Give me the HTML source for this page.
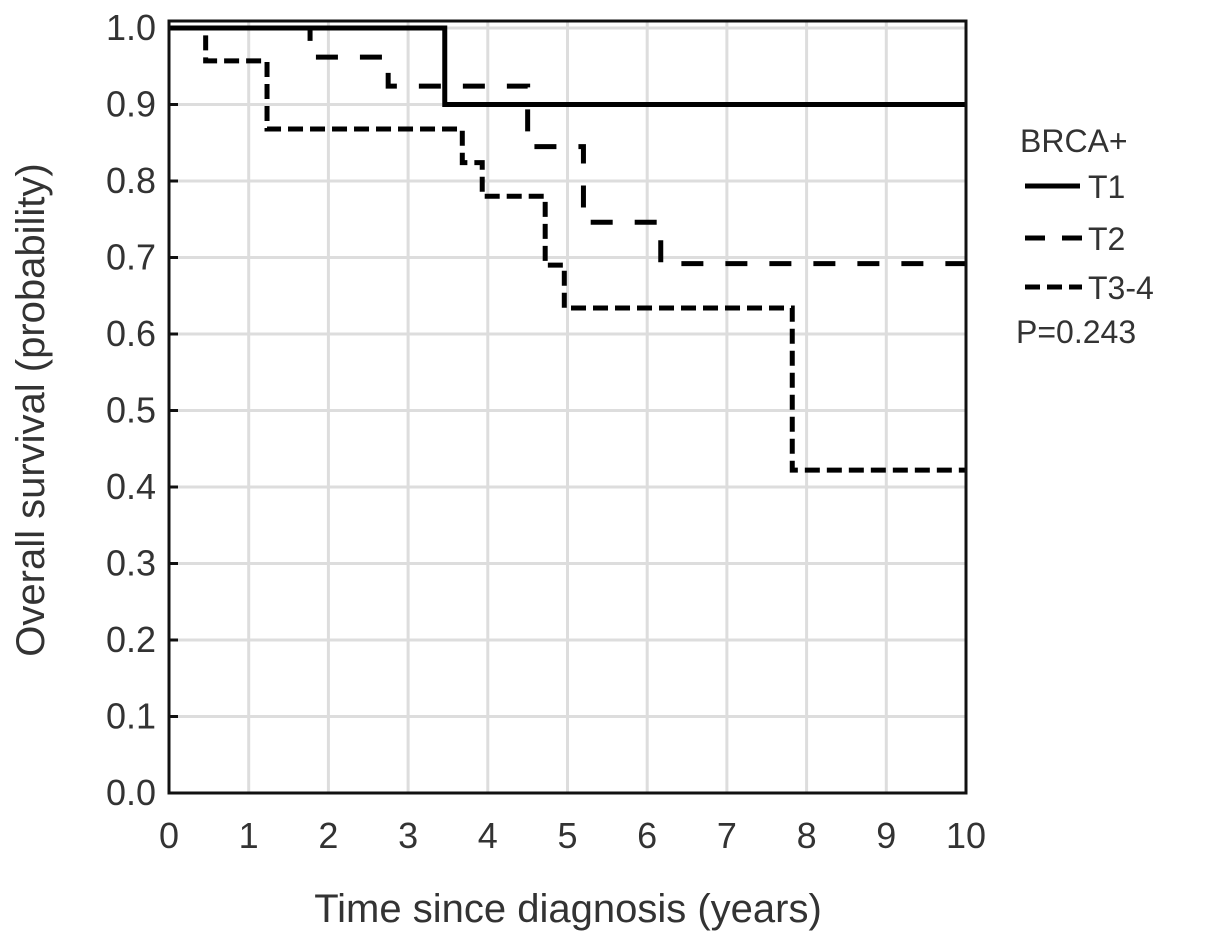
<!DOCTYPE html>
<html><head><meta charset="utf-8"><style>
body{margin:0;background:#fff}
svg text{font-family:"Liberation Sans",sans-serif;fill:#333}
</style></head><body>
<svg id="chart" width="1205" height="944" xmlns="http://www.w3.org/2000/svg">
<g id="grid"></g>
<g id="ticks"></g>
<g id="series"></g>
<rect x="169" y="21" width="797" height="772" fill="none" stroke="#111" stroke-width="3"/>
<text x="568" y="922" font-size="40" text-anchor="middle">Time since diagnosis (years)</text>
<text transform="translate(44,410) rotate(-90)" font-size="40" text-anchor="middle">Overall survival (probability)</text>
<g>
<text x="1020" y="152" font-size="32">BRCA+</text>
<line x1="1025" y1="186" x2="1080" y2="186" stroke="#000" stroke-width="5"/>
<text x="1088" y="198" font-size="32">T1</text>
<line x1="1025" y1="238" x2="1082" y2="238" stroke="#000" stroke-width="5" stroke-dasharray="20,17"/>
<text x="1088" y="250" font-size="32">T2</text>
<line x1="1025" y1="287" x2="1082" y2="287" stroke="#000" stroke-width="5" stroke-dasharray="15,7"/>
<text x="1088" y="299" font-size="32">T3-4</text>
<text x="1016" y="343" font-size="32">P=0.243</text>
</g>
</svg>
<script>
const xTicks=[0,1,2,3,4,5,6,7,8,9,10];
const yTicks=[0,0.1,0.2,0.3,0.4,0.5,0.6,0.7,0.8,0.9,1.0];
const t1Times=[0,3.46,10];
const t1Surv=[1.0,0.9,0.9];
const t2Times=[0,1.77,2.75,4.5,5.2,6.17,10];
const t2Surv=[1.0,0.962,0.924,0.845,0.746,0.692,0.692];
const t34Times=[0,0.46,1.23,3.68,3.93,4.72,4.96,7.82,10];
const t34Surv=[1.0,0.957,0.868,0.824,0.78,0.69,0.634,0.422,0.422];
const NS="http://www.w3.org/2000/svg";
function X(v){return 169+v*79.7;}
function Y(v){return 793-v*765;}
const grid=document.getElementById('grid'),ticks=document.getElementById('ticks'),ser=document.getElementById('series');
function mk(tag,attrs,parent){const e=document.createElementNS(NS,tag);for(const k in attrs)e.setAttribute(k,attrs[k]);parent.appendChild(e);return e;}
xTicks.forEach(t=>{
 const l=mk('line',{x1:X(t),x2:X(t),y1:21,y2:793,stroke:'#ddd','stroke-width':3},grid);
 
 
 const tx=mk('text',{x:X(t),y:848,'font-size':36,'text-anchor':'middle'},ticks);
 tx.textContent=t;
 
 
});
yTicks.forEach(t=>{
 const l=mk('line',{x1:169,x2:966,y1:Y(t),y2:Y(t),stroke:'#ddd','stroke-width':3},grid);
 
 
 const tk=mk('line',{x1:169,x2:178,y1:Y(t),y2:Y(t),stroke:'#111','stroke-width':3},ticks);
 
 
 const tx=mk('text',{x:156,y:Y(t)+12,'font-size':36,'text-anchor':'end'},ticks);
 tx.textContent=t.toFixed(1);
 
 
});
function step(times,surv,dash,name){
 let d='M'+X(times[0])+','+Y(surv[0]);
 for(let i=1;i<times.length;i++){d+=' H'+X(times[i])+' V'+Y(surv[i]);}
 const p=mk('path',{d:d,fill:'none',stroke:'#000','stroke-width':5},ser);
 if(dash)p.setAttribute('stroke-dasharray',dash);
 
 
}
step(t34Times,t34Surv,'15,7','curve-t3-4');
step(t2Times,t2Surv,'22,22','curve-t2');
step(t1Times,t1Surv,null,'curve-t1');
</script>
</body></html>
